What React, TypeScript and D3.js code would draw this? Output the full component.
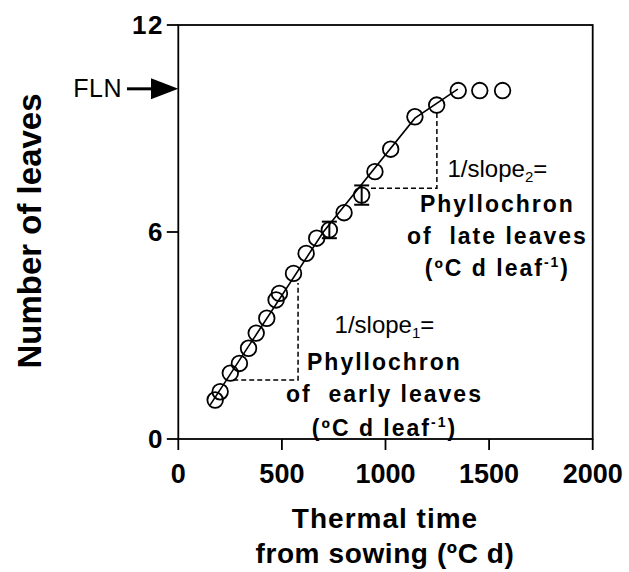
import React from 'react';
import * as d3 from 'd3';

// ---- data ----
const thermalTime = [178, 202, 251, 295, 339, 376, 427, 472, 488, 556, 617, 668, 729, 800, 885, 949, 1025, 1142, 1247, 1351, 1455, 1565];
const leafNumber = [1.13, 1.37, 1.91, 2.19, 2.63, 3.07, 3.5, 4.03, 4.22, 4.8, 5.38, 5.82, 6.06, 6.56, 7.07, 7.75, 8.4, 9.34, 9.68, 10.1, 10.1, 10.1];
const errorIndex = [12, 14];
const errorValue = [0.24, 0.28];
const fitX = [154, 700, 1142, 1349];
const fitY = [0.99, 6.0, 9.3, 10.14];
const FLN = 10.15;
const xTicks = [0, 500, 1000, 1500, 2000];
const yTicks = [0, 6, 12];
const earlyTriX = [265, 578, 578];
const earlyTriY = [1.71, 1.71, 4.52];
const lateTriX = [930, 1248, 1248];
const lateTriY = [7.27, 7.27, 9.5];
const earlyLabelAt = [995, 3.07];
const lateLabelAt = [1540, 7.59];

const W = 629;
const H = 572;
const FONT = "'Liberation Sans', Arial, Helvetica, sans-serif";

export default function App() {
  const x = d3.scaleLinear().domain([0, 2000]).range([178.3, 592.7]);
  const y = d3.scaleLinear().domain([0, 12]).range([439, 25]);
  const line = d3.line<[number, number]>().x((d) => x(d[0])).y((d) => y(d[1]));
  const fitPts = fitX.map((v, i) => [v, fitY[i]] as [number, number]);
  const earlyPts = earlyTriX.map((v, i) => [v, earlyTriY[i]] as [number, number]);
  const latePts = lateTriX.map((v, i) => [v, lateTriY[i]] as [number, number]);

  const boldAnno = { fontFamily: FONT, fontWeight: 700, fontSize: 23, letterSpacing: 2, whiteSpace: 'pre' as const };
  const regAnno = { fontFamily: FONT, fontWeight: 400, fontSize: 24 };

  const renderAnno = (at: number[], which: string, word: string, gaps: number[]) => {
    const cx = x(at[0]);
    const by = y(at[1]);
    return (
      <g textAnchor="middle">
        <text x={cx} y={by} style={regAnno}>
          1/slope<tspan fontSize={15} dy={5}>{which}</tspan><tspan dy={-5}>=</tspan>
        </text>
        <text x={cx} y={by + gaps[0]} style={boldAnno}>Phyllochron</text>
        <text x={cx} y={by + gaps[1]} style={boldAnno}>{`of  ${word} leaves`}</text>
        <text x={cx} y={by + gaps[2]} style={boldAnno}>
          (ºC d leaf<tspan fontSize={14} dy={-9}>-1</tspan><tspan dy={9}>)</tspan>
        </text>
      </g>
    );
  };

  const yF = y(FLN);

  return (
    <div style={{ position: 'absolute', left: 0, top: 0, background: '#fff' }}>
      <svg width={W} height={H} viewBox={`0 0 ${W} ${H}`} style={{ display: 'block' }}>
        <rect x={0} y={0} width={W} height={H} fill="#fff" />
        {/* frame */}
        <rect x={x(0)} y={y(12)} width={x(2000) - x(0)} height={y(0) - y(12)} fill="none" stroke="#000" strokeWidth={1.8} />
        {/* x ticks */}
        {xTicks.map((t) => (
          <g key={'xt' + t}>
            <line x1={x(t)} x2={x(t)} y1={y(0)} y2={y(0) + 11} stroke="#000" strokeWidth={1.8} />
            <text x={x(t)} y={483} textAnchor="middle" style={{ fontFamily: FONT, fontWeight: 700, fontSize: 27 }}>{t}</text>
          </g>
        ))}
        {/* y ticks */}
        {yTicks.map((t) => (
          <g key={'yt' + t}>
            <line x1={x(0) - 11.5} x2={x(0)} y1={y(t)} y2={y(t)} stroke="#000" strokeWidth={1.8} />
            <text x={164} y={y(t) + 9} textAnchor="end" style={{ fontFamily: FONT, fontWeight: 700, fontSize: 26, letterSpacing: 1.5 }}>{t}</text>
          </g>
        ))}
        {/* axis titles */}
        <text transform={`translate(41, 231) rotate(-90)`} textAnchor="middle" style={{ fontFamily: FONT, fontWeight: 700, fontSize: 33 }}>Number of leaves</text>
        <text x={385} y={528} textAnchor="middle" style={{ fontFamily: FONT, fontWeight: 700, fontSize: 28, letterSpacing: 1 }}>Thermal time</text>
        <text x={385} y={563} textAnchor="middle" style={{ fontFamily: FONT, fontWeight: 700, fontSize: 28, letterSpacing: 0.6 }}>from sowing (ºC d)</text>

        {/* FLN arrow */}
        <text x={122} y={yF + 8.5} textAnchor="end" style={{ fontFamily: FONT, fontWeight: 400, fontSize: 25, letterSpacing: 0.5 }}>FLN</text>
        <line x1={127} x2={153} y1={yF} y2={yF} stroke="#000" strokeWidth={3} />
        <path d={`M${151},${yF - 10.5} L${x(0)},${yF} L${151},${yF + 10.5} Z`} fill="#000" />

        {/* dashed triangles */}
        <path d={line(earlyPts) || ''} fill="none" stroke="#000" strokeWidth={1.5} strokeDasharray="5,3" />
        <path d={line(latePts) || ''} fill="none" stroke="#000" strokeWidth={1.5} strokeDasharray="5,3" />

        {/* fitted line */}
        <path d={line(fitPts) || ''} fill="none" stroke="#000" strokeWidth={1.6} />

        {/* error bars */}
        {errorIndex.map((idx, k) => {
          const cx = x(thermalTime[idx]);
          const lo = y(leafNumber[idx] - errorValue[k]);
          const hi = y(leafNumber[idx] + errorValue[k]);
          return (
            <g key={'eb' + k} stroke="#000" strokeWidth={2}>
              <line x1={cx} x2={cx} y1={lo} y2={hi} />
              <line x1={cx - 7.5} x2={cx + 7.5} y1={lo} y2={lo} />
              <line x1={cx - 7.5} x2={cx + 7.5} y1={hi} y2={hi} />
            </g>
          );
        })}

        {/* points */}
        {thermalTime.map((t, i) => (
          <circle key={'p' + i} cx={x(t)} cy={y(leafNumber[i])} r={7.8} fill="none" stroke="#000" strokeWidth={1.8} />
        ))}

        {/* annotations */}
        {renderAnno(earlyLabelAt, '1', 'early', [37, 69, 103])}
        {renderAnno(lateLabelAt, '2', 'late', [35, 67, 99])}
      </svg>
    </div>
  );
}
